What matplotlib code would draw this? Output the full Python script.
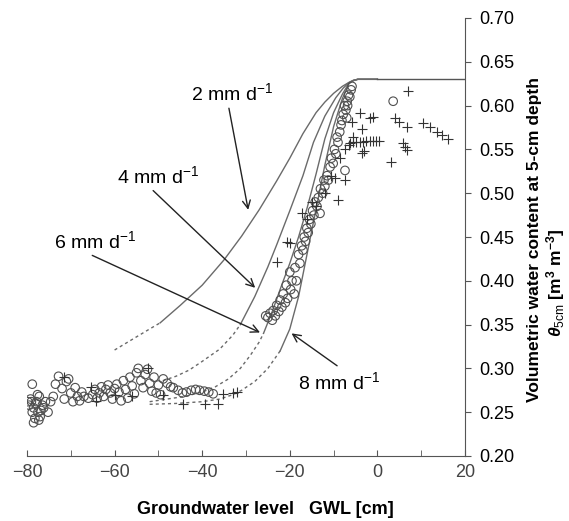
import numpy as np
import matplotlib
matplotlib.use("Agg")
import matplotlib.pyplot as plt

plt.rcParams['font.family'] = ['Liberation Sans', 'DejaVu Sans']
plt.rcParams['mathtext.fontset'] = 'custom'
plt.rcParams['mathtext.rm'] = 'Liberation Sans'
plt.rcParams['mathtext.it'] = 'Liberation Sans:italic:bold'
plt.rcParams['mathtext.bf'] = 'Liberation Sans:bold'

# model curves (GWL cm, theta) for the four evaporation rates
c2_x = [-60, -56, -52, -49.6, -45, -40, -35, -31, -27, -23, -20, -17, -14, -12, -10, -8, -6.5, -5.5, -4.5, 0]
c2_y = [0.321, 0.333, 0.345, 0.352, 0.372, 0.395, 0.424, 0.451, 0.481, 0.514, 0.540, 0.568, 0.592, 0.604, 0.614, 0.622, 0.6265, 0.6288, 0.63, 0.63]
c2_split = -49.6

c4_x = [-49, -46, -43, -40, -36, -33, -31.3, -28, -25, -23, -20, -17, -14.6, -12, -9.5, -7.8, -6.5, -5.5, -4.5, 0]
c4_y = [0.286, 0.291, 0.298, 0.308, 0.322, 0.338, 0.350, 0.382, 0.416, 0.441, 0.480, 0.520, 0.558, 0.588, 0.609, 0.620, 0.6262, 0.6288, 0.63, 0.63]
c4_split = -31.3

c6_x = [-52, -48, -44, -40, -37, -34, -31.3, -29, -27, -26, -24, -22, -20, -18, -16, -14, -12, -10, -8, -6.5, -5.5, -4.5, 0]
c6_y = [0.262, 0.265, 0.268, 0.273, 0.279, 0.288, 0.300, 0.315, 0.330, 0.340, 0.365, 0.393, 0.420, 0.450, 0.484, 0.522, 0.562, 0.592, 0.613, 0.6255, 0.6285, 0.63, 0.63]
c6_split = -26

c8_x = [-52, -46, -40, -36, -33, -31, -28, -25, -22.2, -20, -18, -16, -14, -12, -10, -8, -6.5, -5.5, -4.5, 0]
c8_y = [0.259, 0.260, 0.262, 0.265, 0.270, 0.275, 0.285, 0.300, 0.320, 0.345, 0.382, 0.432, 0.482, 0.532, 0.576, 0.608, 0.625, 0.6285, 0.63, 0.63]
c8_split = -22.2

theta_sat = 0.63

# observed data: circles
circ_x = [-79.5, -79, -78.5, -78, -77.5, -77, -76.5, -79.2, -78.2, -77.3, -76.8, -78.8, -77.8, -79.8, -76.2,
          -77.2, -78.5, -75.8, -75.2, -74.6, -78.8, -77.6,
          -74, -73.5, -72.8, -72, -71.5, -71, -70.5, -70, -69.5, -69, -68.5, -68, -67.5, -67, -66, -65,
          -64.5, -64, -63.5, -63, -62.5, -62, -61.5, -61, -60.5, -60, -59.5, -59, -58.5, -58, -57.5, -57,
          -56.5, -56, -55.5, -55, -54.6, -54, -53.5, -53, -52.5, -52, -51.5, -51, -50.5, -50, -49.5,
          -48.9, -48, -47.2, -46.6, -45.5, -44.5, -43.6, -42.5, -41.5, -40.6, -39.5, -38.5, -37.5,
          -25.5, -25, -24.5, -24, -23.8, -23.3, -23, -22.5, -22.2, -21.8, -21.5, -21, -20.8, -20.5, -20,
          -19.8, -19.5, -19, -18.8, -18.5, -18, -17.7, -17.3, -17, -16.7, -16.4, -16.1, -15.8, -15.5,
          -15.2, -14.8, -14.5, -14.2, -13.8, -13.5, -13.1, -13, -12.5, -12.2, -12, -11.5, -11.2, -10.8,
          -10.5, -10.1, -9.8, -9.5, -9.2, -9, -8.6, -8.3, -8.1, -7.8, -7.5, -7.2, -6.9, -6.6, -6.3, -6,
          -5.8, -6.8, -7.4, -7.0, 3.6]
circ_y = [0.258, 0.262, 0.255, 0.260, 0.250, 0.245, 0.258, 0.265, 0.243, 0.241, 0.252, 0.250, 0.262, 0.262, 0.255,
          0.268, 0.238, 0.262, 0.250, 0.262, 0.282, 0.270,
          0.268, 0.282, 0.291, 0.277, 0.265, 0.285, 0.288, 0.272, 0.262, 0.278, 0.268, 0.263, 0.273, 0.268, 0.266, 0.270,
          0.276, 0.266, 0.272, 0.279, 0.268, 0.276, 0.281, 0.272, 0.265, 0.277, 0.282, 0.273, 0.263, 0.286, 0.276, 0.266,
          0.290, 0.280, 0.271, 0.295, 0.300, 0.286, 0.278, 0.293, 0.299, 0.283, 0.274, 0.290, 0.272, 0.281, 0.270,
          0.288, 0.283, 0.279, 0.278, 0.275, 0.272, 0.273, 0.275, 0.276, 0.275, 0.274, 0.273, 0.271,
          0.360, 0.358, 0.363, 0.355, 0.366, 0.360, 0.372, 0.365, 0.378, 0.370, 0.385, 0.375, 0.395, 0.380, 0.410,
          0.390, 0.400, 0.385, 0.415, 0.400, 0.430, 0.420, 0.440, 0.435, 0.450, 0.445, 0.460, 0.455, 0.470,
          0.465, 0.480, 0.475, 0.490, 0.485, 0.495, 0.477, 0.505, 0.500, 0.515, 0.508, 0.520, 0.515, 0.530,
          0.540, 0.534, 0.550, 0.545, 0.564, 0.558, 0.570, 0.578, 0.583, 0.590, 0.600, 0.595, 0.605, 0.612, 0.610, 0.618,
          0.622, 0.600, 0.526, 0.586, 0.605]

# observed data: crosses
plus_x = [-65.4, -64.3, -52.3, -44.3, -39.4, -36.3, -35.2, -32.9, -32.1, -71.5, -60, -56, -49,
          -22.9, -20.7, -19.9, -17.2, -16, -15, -14, -12, -10.5, -9.6, -9.0, -7.4, -8.5, -7.5, -6.5,
          -5.5, -5.8, -4.0, -3.5, -3.5, -3.0,
          -6.3, -5.5, -4.8, -4, -3.3, -2.5, -1.8, -1.0, -0.3, 0.4, -1.6, -0.9,
          7.0, 4.1, 5.0, 6.8, 10.5, 12.1, 13.6, 14.8, 16.1, 5.9, 6.4, 6.8, 3.2]
plus_y = [0.279, 0.263, 0.301, 0.259, 0.259, 0.259, 0.271, 0.272, 0.273, 0.290, 0.270, 0.268, 0.270,
          0.421, 0.444, 0.443, 0.477, 0.470, 0.490, 0.485, 0.500, 0.520, 0.517, 0.492, 0.515, 0.540, 0.550, 0.555,
          0.564, 0.581, 0.591, 0.573, 0.546, 0.548,
          0.557, 0.558, 0.559, 0.558, 0.559, 0.560, 0.560, 0.560, 0.560, 0.560, 0.586, 0.587,
          0.617, 0.586, 0.581, 0.576, 0.580, 0.575, 0.570, 0.566, 0.562, 0.557, 0.553, 0.549, 0.536]

labels = ['2 mm d$^{\\mathregular{-1}}$', '4 mm d$^{\\mathregular{-1}}$',
          '6 mm d$^{\\mathregular{-1}}$', '8 mm d$^{\\mathregular{-1}}$']
label_xy = [(-33.2, 0.614), (-50.1, 0.519), (-64.5, 0.445), (-8.7, 0.284)]
arrow_from = [(-33.9, 0.597), (-51.2, 0.503), (-65.1, 0.429), (-9.2, 0.303)]
arrow_to = [(-29.5, 0.481), (-27.9, 0.392), (-26.8, 0.341), (-19.6, 0.340)]

fig = plt.figure(figsize=(5.69, 5.21), dpi=100)
ax = fig.add_axes([27 / 569, 1 - 456 / 521, (465 - 27) / 569, (456 - 18) / 521])

line_col = '#6a6a6a'
for cx, cy, split in [(c2_x, c2_y, c2_split), (c4_x, c4_y, c4_split),
                      (c6_x, c6_y, c6_split), (c8_x, c8_y, c8_split)]:
    cx = np.array(cx)
    cy = np.array(cy)
    ax.plot(cx[cx <= split], cy[cx <= split], color=line_col, lw=1.0, ls=(0, (2.2, 2.2)))
    ax.plot(cx[cx >= split], cy[cx >= split], color=line_col, lw=1.0)
ax.plot([0, 20], [theta_sat, theta_sat], color='#555555', lw=1.0)

ax.scatter(circ_x, circ_y, s=38, facecolors='none', edgecolors='#505050', linewidths=0.8, zorder=3)
ax.scatter(plus_x, plus_y, s=50, marker='+', color='#333333', linewidths=0.8, zorder=3)

for lab, pos, a0, a1 in zip(labels, label_xy, arrow_from, arrow_to):
    ax.text(pos[0], pos[1], lab, fontsize=14, ha='center', va='center')
    ax.annotate('', xy=a1, xytext=a0,
                arrowprops=dict(arrowstyle='->', color='#222222', lw=1.0,
                                shrinkA=0, shrinkB=0, mutation_scale=14))

ax.set_xlim(-80, 20)
ax.set_ylim(0.2, 0.7)
ax.spines['left'].set_visible(False)
ax.spines['top'].set_visible(False)
ax.spines['right'].set_color('#555555')
ax.spines['bottom'].set_color('#555555')
ax.yaxis.tick_right()
ax.set_xticks(np.arange(-80, 21, 20))
ax.set_xticks(np.arange(-70, 20, 20), minor=True)
ax.set_yticks(np.arange(0.2, 0.701, 0.05))
ax.set_yticklabels(['%.2f' % v for v in np.arange(0.2, 0.701, 0.05)])
ax.set_xticklabels(['\u221280', '\u221260', '\u221240', '\u221220', '0', '20'])
ax.tick_params(axis='x', which='both', direction='in', length=4, color='#555555',
               labelsize=13, pad=6, labelcolor='#444444')
ax.tick_params(axis='y', direction='out', length=4, color='#555555', labelsize=13, pad=6)
ax.set_facecolor('white')

fig.text(265 / 569, 1 - 510 / 521, 'Groundwater level   GWL [cm]', fontsize=13,
         fontweight='bold', ha='center', va='center')
fig.text(534 / 569, 1 - 240 / 521, 'Volumetric water content at 5-cm depth', fontsize=12.5,
         fontweight='bold', rotation=90, ha='center', va='center')
fig.text(556 / 569, 1 - 283 / 521, r'$\theta_{\mathregular{5cm}}$ $\mathbf{[m^3\ m^{-3}]}$', fontsize=12.5,
         rotation=90, ha='center', va='center')

fig.savefig('out.png', dpi=100)
